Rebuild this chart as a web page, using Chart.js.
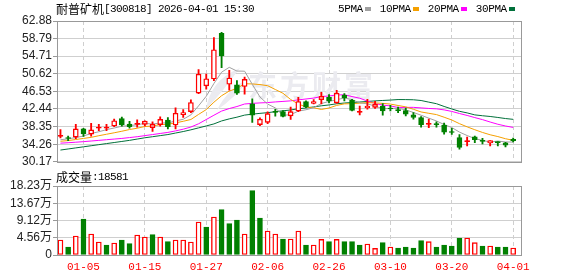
<!DOCTYPE html>
<html>
<head>
<meta charset="utf-8">
<script src="https://cdn.jsdelivr.net/npm/chart.js@4"></script>
<style>
  html, body { margin: 0; padding: 0; background: #fff; }
  #wrap { position: relative; width: 578px; height: 276px; }
  #price { position: absolute; left: 0; top: 0; }
  #vol { position: absolute; left: 0; top: 170px; }
</style>
</head>
<body>
<div id="wrap">
  <canvas id="price" width="578" height="170"></canvas>
  <canvas id="vol" width="578" height="106"></canvas>
</div>
<script>
// trading days shown
const dates = ['12-29','12-30','12-31','01-05','01-06','01-07','01-08','01-09','01-12','01-13',
  '01-14','01-15','01-16','01-19','01-20','01-21','01-22','01-23','01-26','01-27',
  '01-28','01-29','01-30','02-02','02-03','02-04','02-05','02-06','02-09','02-10',
  '02-11','02-12','02-13','02-24','02-25','02-26','02-27','03-02','03-03','03-04',
  '03-05','03-06','03-09','03-10','03-11','03-12','03-13','03-16','03-17','03-18',
  '03-19','03-20','03-23','03-24','03-25','03-26','03-27','03-30','03-31','04-01'];
const tickDates = ['01-05','01-15','01-27','02-06','02-26','03-10','03-20','04-01'];

const open  = [36.07,35.64,35.92,37.81,36.60,38.00,37.98,38.49,40.23,38.95,
  38.87,38.87,38.11,38.80,39.86,38.72,41.14,41.83,46.14,47.81,
  49.40,60.00,48.19,48.04,47.66,43.64,38.80,39.32,41.82,41.82,
  40.84,41.97,44.17,43.72,44.63,45.16,43.87,45.69,44.48,41.67,
  42.70,42.80,43.11,42.58,42.28,42.05,41.07,40.46,38.87,39.02,
  38.72,37.13,35.77,34.86,35.99,35.08,34.55,34.78,34.55,35.39];
const high  = [37.66,36.14,38.87,37.96,39.10,38.87,38.87,40.08,40.54,39.55,
  39.93,39.70,39.48,40.61,40.46,42.73,42.28,44.55,51.59,50.53,
  59.02,60.23,51.44,49.02,49.85,44.78,40.39,41.75,42.35,42.05,
  42.88,45.16,44.32,44.63,46.29,45.76,46.75,45.99,44.70,43.11,
  44.70,44.20,43.72,43.26,42.88,42.66,41.60,40.69,40.08,39.48,
  39.17,37.96,36.52,35.92,36.14,35.61,35.08,34.86,34.70,35.69];
const low   = [35.69,35.08,35.54,36.07,36.14,37.43,37.43,38.34,38.42,37.96,
  38.19,38.49,37.20,38.42,37.81,37.81,40.46,41.60,45.99,47.05,
  49.02,52.05,46.82,45.84,45.91,39.32,38.57,39.02,40.76,40.61,
  40.01,41.82,42.73,43.64,43.64,43.87,43.72,44.32,41.97,41.07,
  42.40,42.60,40.99,41.97,41.60,40.84,40.08,38.19,38.11,38.19,
  36.60,36.52,33.12,33.87,34.63,34.33,33.87,33.87,33.65,34.78];
const close = [36.07,35.58,37.81,36.67,37.58,38.10,38.05,39.70,38.72,38.34,
  39.10,39.63,38.87,40.01,38.34,41.45,41.60,43.95,50.53,49.47,
  56.21,54.78,49.63,46.14,49.32,40.99,40.08,41.37,41.67,40.69,
  41.82,44.17,42.96,44.17,45.38,44.32,46.14,45.01,42.13,41.82,
  43.10,43.50,41.97,42.43,42.05,41.22,40.46,38.80,39.02,38.80,
  37.05,36.98,33.49,35.01,35.31,34.93,35.08,34.63,34.02,35.08];
const volume = [39600,21100,50200,95100,55500,34300,26400,31700,39600,29900,
  52800,47500,53700,47500,35200,39600,39600,34300,87200,74000,
  100400,119700,82800,92500,55500,169900,97800,63400,55500,42300,
  42300,63400,26400,26400,41400,35200,41400,35200,35200,26400,
  29000,17600,32600,21100,18500,21100,18500,37900,35200,21100,
  26400,23800,44900,44900,32600,23800,23800,21100,21100,18581];

const ma5  = [35.30,35.50,35.80,36.15,36.75,37.15,37.64,38.02,38.43,38.58,
  38.78,39.10,38.93,39.19,39.19,39.66,40.05,41.07,43.17,45.40,
  48.35,50.99,52.12,51.25,51.22,48.17,45.23,43.58,42.69,40.96,
  41.13,41.94,42.26,42.76,43.70,44.20,44.59,45.00,44.60,43.88,
  43.64,43.11,42.50,42.56,42.61,42.23,41.63,40.99,40.31,39.66,
  38.83,38.13,37.07,36.27,35.57,35.14,34.76,34.99,34.79,34.75];
const ma10 = [34.94,35.10,35.35,35.60,35.85,36.23,36.57,36.91,37.27,37.67,
  37.97,38.37,38.48,38.81,38.89,39.22,39.58,40.00,41.18,42.30,
  44.01,45.52,46.60,47.21,48.31,48.26,48.11,47.85,46.97,46.09,
  44.65,43.59,42.92,42.73,42.33,42.67,43.27,43.63,43.68,43.79,
  43.92,43.85,43.75,43.58,43.25,42.94,42.37,41.75,41.44,41.14,
  40.53,39.88,39.03,38.29,37.62,36.99,36.45,36.03,35.53,35.16];
const ma20 = [34.50,34.60,34.72,34.85,35.00,35.15,35.30,35.45,35.60,35.80,
  36.00,36.25,36.50,36.75,37.00,37.35,37.75,38.25,39.00,39.99,
  40.99,41.95,42.54,43.01,43.60,43.74,43.85,43.93,44.08,44.20,
  44.33,44.56,44.76,44.97,45.32,45.47,45.69,45.74,45.33,44.94,
  44.29,43.72,43.34,43.16,42.79,42.81,42.82,42.69,42.56,42.47,
  42.23,41.87,41.39,40.94,40.44,39.97,39.41,38.89,38.49,38.15];
const ma30 = [32.90,33.15,33.40,33.65,33.90,34.15,34.40,34.65,34.90,35.15,
  35.45,35.75,36.00,36.25,36.50,36.85,37.20,37.60,38.05,38.50,
  38.97,39.66,40.14,40.54,41.02,41.24,41.42,41.59,41.81,42.02,
  42.21,42.49,42.67,42.92,43.18,43.38,43.65,43.83,43.94,44.06,
  44.19,44.32,44.42,44.51,44.63,44.62,44.58,44.41,44.03,43.67,
  43.03,42.44,41.90,41.53,41.07,40.87,40.70,40.47,40.22,40.03];

const priceTicks = [30.17, 34.26, 38.35, 42.44, 46.53, 50.62, 54.71, 58.79, 62.88];
const priceTickLabels = ['30.17','34.26','38.35','42.44','46.53','50.62','54.71','58.79','62.88'];
const volTicks = [0, 45600, 91200, 136700, 182300];
const volTickLabels = ['0','4.56万','9.12万','13.67万','18.23万'];

const maNames = ['5PMA', '10PMA', '20PMA', '30PMA'];
const maSeries = [ma5, ma10, ma20, ma30];
const maColors = ['#a0a0a0', '#f5a000', '#ff00ff', '#00703a'];

const RED = '#ff0000', GREEN = '#008000', GRID = '#cfcfcf', FRAME = '#999999';
const tickIdx = tickDates.map(d => dates.indexOf(d));

const isUp = i => close[i] >= open[i];
const candleColor = i => isUp(i) ? RED : GREEN;
const bodyFill = i => (isUp(i) && Math.abs(close[i] - open[i]) > 0.3) ? '#ffffff' : candleColor(i);
const volUp = i => i === 0 ? isUp(0) : close[i] >= close[i - 1];

function xAxis(showLabels) {
  return {
    type: 'linear', min: -0.45, max: 60.15, offset: false,
    afterBuildTicks: s => { s.ticks = tickIdx.map(v => ({ value: v })); },
    afterFit: s => { s.height = showLabels ? 21 : 0; },
    grid: { color: GRID, drawTicks: false, offset: false },
    border: { display: false, dash: [4, 3] },
    ticks: {
      display: showLabels, autoSkip: false, maxRotation: 0, padding: 5,
      color: RED, font: { family: 'Liberation Mono', size: 11 },
      callback: v => dates[v]
    }
  };
}

function yAxis(min, max, ticks, labels, family) {
  return {
    min: min, max: max,
    afterBuildTicks: s => { s.ticks = ticks.map(v => ({ value: v })); },
    afterFit: s => { s.width = 57; },
    grid: { color: GRID, tickLength: 4, tickColor: FRAME },
    border: { display: false },
    ticks: {
      autoSkip: false, padding: 1, color: '#222',
      font: { family: family, size: 12 },
      callback: (v, i) => labels[i]
    }
  };
}

// mixed CJK / ascii text, drawn a glyph at a time like a bitmap font
function mixedText(ctx, str, x, y, asciiW) {
  for (const ch of str) {
    const cjk = /[\u2e80-\u9fff\uff00-\uffef]/.test(ch);
    ctx.font = cjk ? '12px "Noto Sans CJK SC"' : '11px "Liberation Mono"';
    ctx.fillText(ch, x, y);
    x += cjk ? 12 : asciiW;
  }
  return x;
}

const frame = {
  id: 'frame',
  afterDraw(chart) {
    const { ctx, chartArea: a } = chart;
    ctx.save();
    ctx.strokeStyle = FRAME;
    ctx.lineWidth = 1;
    ctx.strokeRect(Math.round(a.left) + 0.5, Math.round(a.top) + 0.5,
      Math.round(a.right - a.left) - 1, Math.round(a.bottom - a.top));
    ctx.restore();
  }
};

// faint site watermark behind the candles
const watermark = {
  id: 'watermark',
  beforeDatasetsDraw(chart) {
    const ctx = chart.ctx;
    ctx.save();
    ctx.fillStyle = '#ebebf0';
    ctx.beginPath();
    ctx.moveTo(206, 110);
    ctx.quadraticCurveTo(210, 80, 240, 68);
    ctx.quadraticCurveTo(224, 90, 206, 110);
    ctx.moveTo(217, 110);
    ctx.quadraticCurveTo(228, 88, 250, 78);
    ctx.quadraticCurveTo(235, 98, 217, 110);
    ctx.fill();
    ctx.font = 'bold 29px "Noto Sans CJK SC"';
    ctx.textBaseline = 'middle';
    let x = 248;
    for (const ch of '东方财富') { ctx.fillText(ch, x, 86); x += 32; }
    ctx.restore();
  }
};

const priceText = {
  id: 'priceText',
  afterDraw(chart) {
    const ctx = chart.ctx;
    ctx.save();
    ctx.fillStyle = '#000';
    ctx.textBaseline = 'middle';
    mixedText(ctx, '耐普矿机[300818] 2026-04-01 15:30', 56, 9, 6);
    let x = 338;
    maNames.forEach((name, k) => {
      ctx.fillStyle = '#000';
      x = mixedText(ctx, name, x, 9, 6.2);
      ctx.fillStyle = maColors[k];
      ctx.fillRect(Math.round(x + 2), 7, 6, 4);
      x += 17;
    });
    ctx.restore();
  }
};

const volText = {
  id: 'volText',
  afterDraw(chart) {
    const ctx = chart.ctx;
    ctx.save();
    ctx.fillStyle = '#000';
    ctx.textBaseline = 'middle';
    mixedText(ctx, '成交量:' + volume[volume.length - 1], 56, 7, 6);
    ctx.restore();
  }
};

const maDatasets = maSeries.map((s, k) => ({
  type: 'line',
  data: s.map((v, i) => ({ x: i, y: v })),
  borderColor: maColors[k],
  borderWidth: 1,
  pointRadius: 0,
  tension: 0,
  order: 2
}));

new Chart(document.getElementById('price'), {
  type: 'bar',
  data: {
    datasets: [
      {
        type: 'bar',
        data: dates.map((d, i) => ({ x: i, y: [open[i], close[i]] })),
        barThickness: 5, grouped: false, order: 0,
        borderWidth: 1.4, borderSkipped: false, minBarLength: 1,
        backgroundColor: c => bodyFill(c.dataIndex),
        borderColor: c => candleColor(c.dataIndex)
      },
      {
        type: 'bar',
        data: dates.map((d, i) => ({ x: i, y: [low[i], high[i]] })),
        barThickness: 1.2, grouped: false, order: 1,
        backgroundColor: c => candleColor(c.dataIndex)
      },
      ...maDatasets
    ]
  },
  options: {
    responsive: false, animation: false, events: [],
    layout: { padding: { left: 0, right: 56, top: 21, bottom: 5 } },
    plugins: { legend: { display: false }, tooltip: { enabled: false } },
    scales: {
      x: xAxis(false),
      y: yAxis(30.17, 62.88, priceTicks, priceTickLabels, 'Liberation Sans')
    }
  },
  plugins: [watermark, frame, priceText]
});

new Chart(document.getElementById('vol'), {
  type: 'bar',
  data: {
    datasets: [{
      data: volume.map((v, i) => ({ x: i, y: v })),
      barThickness: 5, grouped: false,
      borderWidth: 1.4, borderSkipped: false,
      backgroundColor: c => volUp(c.dataIndex) ? '#ffffff' : GREEN,
      borderColor: c => volUp(c.dataIndex) ? RED : GREEN
    }]
  },
  options: {
    responsive: false, animation: false, events: [],
    layout: { padding: { left: 0, right: 56, top: 16, bottom: 0 } },
    plugins: { legend: { display: false }, tooltip: { enabled: false } },
    scales: {
      x: xAxis(true),
      y: yAxis(0, 182300, volTicks, volTickLabels, "'Liberation Sans', 'Noto Sans CJK SC'")
    }
  },
  plugins: [frame, volText]
});
</script>
</body>
</html>
